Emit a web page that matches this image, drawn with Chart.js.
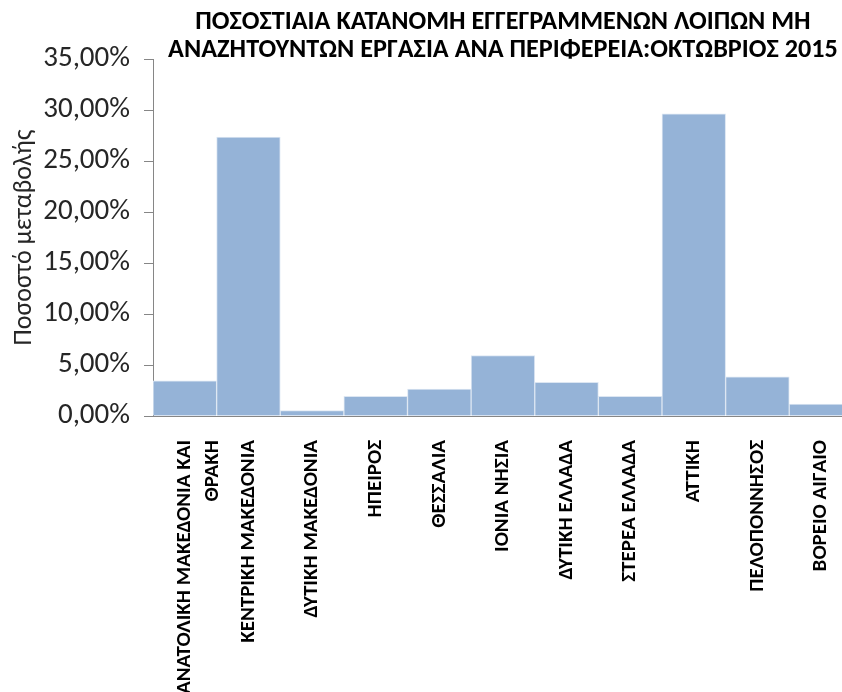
<!DOCTYPE html>
<html>
<head>
<meta charset="utf-8">
<script src="https://cdn.jsdelivr.net/npm/chart.js@4/dist/chart.umd.min.js"></script>
<style>
  html, body { margin: 0; padding: 0; background: #fff; overflow: hidden; }
  .chartBox { position: relative; width: 866px; height: 692px; }
</style>
</head>
<body>
<div class="chartBox">
  <canvas id="myChart" width="866" height="692"></canvas>
</div>
<script>
const regions = [
  ['ΑΝΑΤΟΛΙΚΗ ΜΑΚΕΔΟΝΙΑ ΚΑΙ', 'ΘΡΑΚΗ'],
  'ΚΕΝΤΡΙΚΗ ΜΑΚΕΔΟΝΙΑ',
  'ΔΥΤΙΚΗ ΜΑΚΕΔΟΝΙΑ',
  'ΗΠΕΙΡΟΣ',
  'ΘΕΣΣΑΛΙΑ',
  'ΙΟΝΙΑ ΝΗΣΙΑ',
  'ΔΥΤΙΚΗ ΕΛΛΑΔΑ',
  'ΣΤΕΡΕΑ ΕΛΛΑΔΑ',
  'ΑΤΤΙΚΗ',
  'ΠΕΛΟΠΟΝΝΗΣΟΣ',
  'ΒΟΡΕΙΟ ΑΙΓΑΙΟ',
];
const shares = [3.44, 27.34, 0.52, 1.93, 2.65, 5.93, 3.31, 1.93, 29.64, 3.83, 1.18];
const yTicks = [0, 5, 10, 15, 20, 25, 30, 35];
const titleLines = [
  'ΠΟΣΟΣΤΙΑΙΑ ΚΑΤΑΝΟΜΗ ΕΓΓΕΓΡΑΜΜΕΝΩΝ ΛΟΙΠΩΝ ΜΗ',
  'ΑΝΑΖΗΤΟΥΝΤΩΝ ΕΡΓΑΣΙΑ ΑΝΑ ΠΕΡΙΦΕΡΕΙΑ:ΟΚΤΩΒΡΙΟΣ 2015',
];

const font = "Calibri, Carlito, 'Liberation Sans Narrow', 'Open Sans', sans-serif";

new Chart(document.getElementById('myChart'), {
  type: 'bar',
  data: {
    labels: regions,
    datasets: [{
      data: shares,
      backgroundColor: '#95b3d7',
      borderColor: '#dce6f2',
      borderWidth: 1,
      categoryPercentage: 1,
      barPercentage: 1,
    }],
  },
  options: {
    responsive: false,
    animation: false,
    layout: { padding: 0 },
    plugins: {
      legend: { display: false },
      tooltip: { enabled: false },
      title: {
        display: true,
        text: titleLines,
        fullSize: false,
        color: '#000',
        font: { family: font, size: 26.2, weight: 'bold', lineHeight: 1.07 },
        padding: { top: 8, bottom: -5 },
      },
    },
    scales: {
      x: {
        grid: { display: false },
        border: { color: '#868686', width: 1 },
        ticks: {
          autoSkip: false,
          minRotation: 90,
          maxRotation: 90,
          padding: 16,
          color: '#000',
          font: { family: font, size: 21, weight: 'bold', lineHeight: 1.35 },
        },
        afterFit: (scale) => { scale.height = 276; },
      },
      y: {
        min: 0,
        max: 35,
        afterBuildTicks: (scale) => { scale.ticks = yTicks.map(v => ({ value: v })); },
        grid: { drawOnChartArea: false, drawTicks: true, tickLength: 9, color: '#868686' },
        border: { color: '#868686', width: 1 },
        ticks: {
          padding: 14,
          color: '#262626',
          font: { family: font, size: 29 },
          callback: (v) => v.toFixed(2).replace('.', ',') + '%',
        },
        title: {
          display: true,
          text: 'Ποσοστό μεταβολής',
          color: '#262626',
          font: { family: font, size: 26, lineHeight: 1.2 },
          padding: { top: 9, bottom: 0 },
        },
        afterFit: (scale) => { scale.width = 153; },
      },
    },
  },
});
</script>
</body>
</html>
